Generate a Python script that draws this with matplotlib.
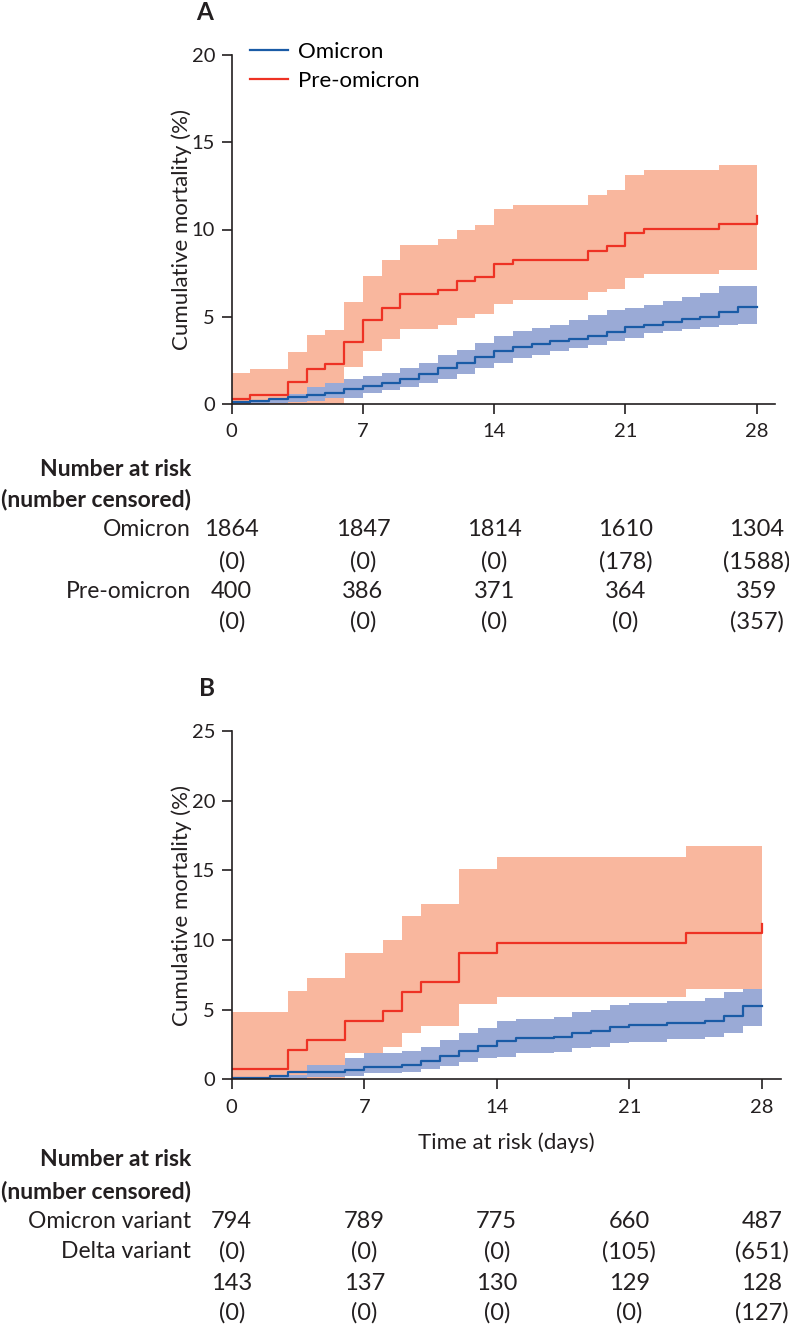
import matplotlib
matplotlib.use("Agg")
import matplotlib.pyplot as plt
import matplotlib.transforms as mtransforms

plt.rcParams['font.family'] = ['Lato', 'DejaVu Sans']

# ---- panel A: omicron vs pre-omicron ----
a_pre_t = [0, 1, 3, 4, 5, 6, 7, 8, 9, 11, 12, 13, 14, 15, 19, 20, 21, 22, 26, 28]
a_pre_est = [0.27, 0.52, 1.28, 2.03, 2.28, 3.54, 4.79, 5.53, 6.28, 6.53, 7.03, 7.28,
             8.03, 8.28, 8.78, 9.04, 9.79, 10.04, 10.29, 10.76]
a_pre_hi = [1.76, 1.99, 2.99, 3.97, 4.25, 5.84, 7.36, 8.26, 9.12, 9.43, 9.98, 10.27,
            11.15, 11.42, 11.99, 12.28, 13.12, 13.41, 13.7, 13.7]
a_pre_lo = [0, 0, 0, 0, 0, 2.11, 3.05, 3.72, 4.27, 4.5, 4.9, 5.13,
            5.75, 5.94, 6.42, 6.59, 7.24, 7.47, 7.7, 7.7]

a_omi_t = list(range(29))
a_omi_est = [0.10, 0.19, 0.27, 0.42, 0.52, 0.65, 0.88, 1.02, 1.19, 1.42, 1.71, 2.05, 2.34, 2.72,
             3.03, 3.29, 3.45, 3.60, 3.75, 3.91, 4.10, 4.41, 4.55, 4.70, 4.85, 5.00, 5.25, 5.55, 5.55]
a_omi_hi = [0.15, 0.25, 0.35, 0.55, 1.00, 1.19, 1.46, 1.61, 1.80, 2.05, 2.34, 2.78, 3.10, 3.52,
            3.87, 4.16, 4.35, 4.54, 4.83, 5.11, 5.40, 5.50, 5.65, 5.88, 6.11, 6.36, 6.74, 6.74, 6.74]
a_omi_lo = [0.0, 0.0, 0.05, 0.10, 0.19, 0.33, 0.33, 0.65, 0.80, 0.96, 1.19, 1.42, 1.71, 2.05,
            2.34, 2.62, 2.82, 3.01, 3.20, 3.39, 3.60, 3.77, 4.06, 4.20, 4.30, 4.40, 4.50, 4.60, 4.60]

# ---- panel B: omicron vs delta ----
b_del_t = [0, 3, 4, 6, 8, 9, 10, 12, 14, 24, 28]
b_del_est = [0.75, 2.1, 2.82, 4.19, 4.9, 6.29, 6.96, 9.09, 9.81, 10.48, 11.15]
b_del_hi = [4.86, 6.36, 7.3, 9.09, 10.0, 11.75, 12.58, 15.1, 15.96, 16.77, 16.77]
b_del_lo = [0, 0, 0, 1.91, 2.34, 3.35, 3.83, 5.41, 5.93, 6.48, 6.48]

b_omi_t = list(range(29))
b_omi_est = [0.07, 0.07, 0.24, 0.55, 0.55, 0.55, 0.67, 0.91, 0.91, 1.03, 1.32, 1.67, 2.06, 2.42,
             2.78, 2.94, 2.94, 3.06, 3.35, 3.47, 3.73, 3.90, 3.90, 4.07, 4.07, 4.21, 4.55, 5.26, 5.26]
b_omi_hi = [0.2, 0.2, 0.3, 0.3, 1.03, 1.03, 1.5, 1.87, 1.87, 2.06, 2.34, 2.82, 3.3, 3.71,
            4.19, 4.33, 4.33, 4.5, 4.81, 4.98, 5.33, 5.45, 5.45, 5.65, 5.65, 5.86, 6.29, 6.46, 6.46]
b_omi_lo = [0, 0, 0, 0, 0.2, 0.2, 0.24, 0.43, 0.43, 0.55, 0.72, 0.98, 1.27, 1.56,
            1.63, 1.87, 1.87, 1.99, 2.22, 2.34, 2.58, 2.7, 2.7, 2.87, 2.87, 3.06, 3.3, 3.83, 3.83]

# ---- number at risk tables ----
risk_days = [0, 7, 14, 21, 28]
a_omi_risk = ['1864', '1847', '1814', '1610', '1304']
a_omi_cens = ['(0)', '(0)', '(0)', '(178)', '(1588)']
a_pre_risk = ['400', '386', '371', '364', '359']
a_pre_cens = ['(0)', '(0)', '(0)', '(0)', '(357)']
b_omi_risk = ['794', '789', '775', '660', '487']
b_omi_cens = ['(0)', '(0)', '(0)', '(105)', '(651)']
b_del_risk = ['143', '137', '130', '129', '128']
b_del_cens = ['(0)', '(0)', '(0)', '(0)', '(127)']

RED = '#ee3224'
PINK = '#f9b79e'
BLUE = '#1a5ba6'
LBLUE = '#9aaad6'
INK = '#231f20'

W, H = 789, 1326
fig = plt.figure(figsize=(W / 100, H / 100), dpi=100)


def fy(px):
    return 1 - px / H


def style_axes(ax, ymax, ystep):
    ax.set_xlim(0, 29)
    ax.set_ylim(0, ymax)
    ax.set_xticks(risk_days)
    ax.set_yticks(range(0, ymax + 1, ystep))
    for s in ['top', 'right']:
        ax.spines[s].set_visible(False)
    for s in ['left', 'bottom']:
        ax.spines[s].set_color(INK)
        ax.spines[s].set_linewidth(1.2)
    ax.tick_params(direction='out', length=7, width=1.2, color=INK,
                   labelsize=14.5, labelcolor=INK)
    ax.tick_params(axis='x', pad=7)
    ax.tick_params(axis='y', pad=5)
    ax.set_ylabel('Cumulative mortality (%)', fontsize=16, color=INK, labelpad=0)


def draw_km(ax, t1, e1, lo1, hi1, t2, e2, lo2, hi2, lab1, lab2):
    ax.fill_between(t2, lo2, hi2, step='post', color=PINK, lw=0)
    ax.fill_between(t1, lo1, hi1, step='post', color=LBLUE, lw=0)
    ax.step(t2, e2, where='post', color=RED, lw=1.6, label=lab2)
    ax.step(t1, e1, where='post', color=BLUE, lw=1.6, label=lab1)


def risk_table(ax, rows, label_rows, head_y):
    tr = mtransforms.blended_transform_factory(ax.transData, fig.transFigure)
    fig.text(191 / W, fy(head_y), 'Number at risk', ha='right', va='center',
             fontsize=16.5, fontweight='bold', color=INK)
    fig.text(191 / W, fy(head_y + 31), '(number censored)', ha='right', va='center',
             fontsize=16.5, fontweight='bold', color=INK)
    for text, y in label_rows:
        fig.text(191 / W, fy(y), text, ha='right', va='center', fontsize=16.5, color=INK)
    for vals, y in rows:
        for d, v in zip(risk_days, vals):
            ax.text(d, fy(y), v, transform=tr, ha='center', va='center',
                    fontsize=17, color=INK)


# panel A
axA = fig.add_axes([231.7 / W, fy(404), 29 * 18.75 / W, (404 - 55) / H])
draw_km(axA, a_omi_t, a_omi_est, a_omi_lo, a_omi_hi,
        a_pre_t, a_pre_est, a_pre_lo, a_pre_hi, 'Omicron', 'Pre-omicron')
style_axes(axA, 20, 5)
h, l = axA.get_legend_handles_labels()
fig.legend(h[::-1], l[::-1], loc='upper left', bbox_to_anchor=(250 / W, fy(42)),
           frameon=False, fontsize=16, handlelength=1.7, handletextpad=0.45,
           labelspacing=0.4, borderpad=0, borderaxespad=0)
fig.text(205 / W, fy(13), 'A', ha='center', va='center', fontsize=17.5,
         fontweight='bold', color=INK)
risk_table(axA,
           [(a_omi_risk, 529), (a_omi_cens, 562), (a_pre_risk, 591), (a_pre_cens, 622)],
           [('Omicron', 529), ('Pre-omicron', 591)], 469)

# panel B
axB = fig.add_axes([231.7 / W, fy(1079.3), 29 * 18.93 / W, (1079.3 - 731) / H])
draw_km(axB, b_omi_t, b_omi_est, b_omi_lo, b_omi_hi,
        b_del_t, b_del_est, b_del_lo, b_del_hi, 'Omicron variant', 'Delta variant')
style_axes(axB, 25, 5)
axB.set_xlabel('Time at risk (days)', fontsize=16, color=INK, labelpad=12)
fig.text(207 / W, fy(688), 'B', ha='center', va='center', fontsize=17.5,
         fontweight='bold', color=INK)
risk_table(axB,
           [(b_omi_risk, 1222), (b_omi_cens, 1252), (b_del_risk, 1284), (b_del_cens, 1313)],
           [('Omicron variant', 1222), ('Delta variant', 1252)], 1160)

fig.savefig('out.png', dpi=100)
